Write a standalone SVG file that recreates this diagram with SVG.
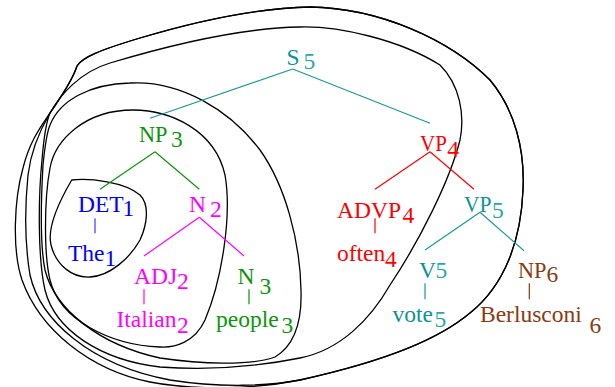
<svg xmlns="http://www.w3.org/2000/svg" width="615" height="387" viewBox="0 0 615 387">
<style>
text{font-family:"Liberation Serif","Times New Roman",serif;font-size:23.5px}
.curve{fill:none;stroke:#000;stroke-width:1.3}
.e{fill:none;stroke-width:1.2}
.teal{fill:#0e9292}.tealsub{fill:#22aaaa}.green{fill:#0a960a}.blue{fill:#0000ff}.mag{fill:#ff00ff}.red{fill:#ff0000}.brown{fill:#8b3a0e}
.lteal{stroke:#159a9a}.lgreen{stroke:#0a960a}.lblue{stroke:#3a3aff}.lmag{stroke:#ff00ff}.lred{stroke:#ff0000}.lbrown{stroke:#8b3a0e}
</style>
<rect width="615" height="387" fill="#fff"/>
<g id="regions">
<path id="regionA" class="curve" d="M71.7,180 C90,178 125,182 140,195 C150,205 147,225 140,240 C130,258 110,276 90,277 C72,278 56,265 51,245 C47,228 60,200 71.7,180 Z"/>
<path id="regionB" class="curve" d="M133,110 C170,110 215,130 225,175 C232,215 222,280 205,320 C195,342 175,348 160,347 C110,345 60,320 50,280 C44,255 44,200 50,168 C55,140 85,110 133,110 Z"/>
<path id="regionC" class="curve" d="M130,83 C180,80 230,110 260,150 C285,185 300,240 301,290 C302,320 295,345 275,357 C250,366 200,364 160,358 C100,345 55,310 45,270 C40,245 41,200 43,165 C45,145 47,132 50,125 C60,100 90,84 130,83 Z"/>
<path id="regionD" class="curve" d="M300,27 C340,26 400,40 440,65 C460,85 465,115 460,140 C450,180 420,240 390,285 C370,320 340,350 300,358 C250,368 200,370 160,367 C100,360 55,330 45,290 C38,260 38,200 42,160 C44,135 47,120 50,113 C60,95 80,72 110,63 C170,45 240,28 300,27 Z"/>
<path id="regionX" class="curve" d="M77,66 C72,82 60,98 50,113 C40,130 31,150 28,175 C24,215 25,245 30,275 C40,320 90,365 170,380 C220,388 270,386 300,380 C390,360 440,338 470,313 C505,285 521,240 523,190 C525,150 515,110 490,80 C450,40 380,8 310,7 C260,8 200,20 140,38 C100,50 82,57 77,66 Z"/>
<path id="regionE" class="curve" d="M310,7 C380,8 450,40 490,80 C515,110 525,150 523,190 C521,240 505,285 470,313 C440,338 390,360 300,380 C250,390 190,390 150,382 C90,370 40,330 22,280 C12,250 14,200 23,168 C30,140 42,125 50,113 C60,98 72,82 77,66 C82,58 100,50 140,38 C200,20 260,8 310,7 Z"/>
</g>
<g id="connectors" class="e">
<line class="lteal" x1="292.7" y1="69" x2="150" y2="118.3"/>
<line class="lteal" x1="292.7" y1="69" x2="430" y2="123.3"/>
<line class="lgreen" x1="155" y1="151.7" x2="100" y2="189.3"/>
<line class="lgreen" x1="155" y1="151.7" x2="199.3" y2="189.3"/>
<line class="lblue" x1="95" y1="218.3" x2="95" y2="233.3"/>
<line class="lmag" x1="199.3" y1="217.3" x2="144" y2="256"/>
<line class="lmag" x1="199.3" y1="217.3" x2="244" y2="256"/>
<line class="lmag" x1="144" y1="289.3" x2="144" y2="304.3"/>
<line class="lgreen" x1="249" y1="289.3" x2="249" y2="304.3"/>
<line class="lred" x1="430" y1="151.7" x2="375" y2="189.3"/>
<line class="lred" x1="430" y1="151.7" x2="474" y2="189.3"/>
<line class="lred" x1="375" y1="218.3" x2="375" y2="233.3"/>
<line class="lteal" x1="480" y1="212.3" x2="425" y2="250"/>
<line class="lteal" x1="480" y1="212.3" x2="524" y2="250.7"/>
<line class="lteal" x1="425" y1="283.3" x2="425" y2="299.3"/>
<line class="lbrown" x1="529.3" y1="283.3" x2="529.3" y2="299.3"/>
</g>
<g id="S5"><text class="teal" x="286.5" y="65">S</text><text class="tealsub" x="303.5" y="69">5</text></g>
<g id="NP3"><text class="green" x="139" y="142" textLength="28.5" lengthAdjust="spacingAndGlyphs">NP</text><text class="green" x="171" y="147">3</text></g>
<g id="DET1"><text class="blue" x="78" y="212.3">DET</text><text class="blue" x="122.5" y="216">1</text></g>
<g id="The1"><text class="blue" x="68" y="261">The</text><text class="blue" x="104.6" y="266">1</text></g>
<g id="N2"><text class="mag" x="189" y="212.3">N</text><text class="mag" x="210" y="216.7">2</text></g>
<g id="ADJ2"><text class="mag" x="134" y="284">ADJ</text><text class="mag" x="177" y="289">2</text></g>
<g id="Italian2"><text class="mag" x="116.5" y="327">Italian</text><text class="mag" x="177" y="332.7">2</text></g>
<g id="N3"><text class="green" x="237.5" y="283.5">N</text><text class="green" x="259.5" y="294.3">3</text></g>
<g id="people3"><text class="green" x="216" y="327">people</text><text class="green" x="281.5" y="332.7">3</text></g>
<g id="VP4"><text class="red" x="420" y="150.7" textLength="26.8" lengthAdjust="spacingAndGlyphs">VP</text><text class="red" x="447.2" y="156.7">4</text></g>
<g id="ADVP4"><text class="red" x="337" y="218.3">ADVP</text><text class="red" x="402.5" y="222.7">4</text></g>
<g id="often4"><text class="red" x="337" y="261">often</text><text class="red" x="385" y="266.7">4</text></g>
<g id="VP5"><text class="teal" x="464" y="212.3" textLength="27.5" lengthAdjust="spacingAndGlyphs">VP</text><text class="tealsub" x="492" y="217.7">5</text></g>
<g id="V5"><text class="teal" x="419" y="278.3">V</text><text class="tealsub" x="435.5" y="278.3">5</text></g>
<g id="vote5"><text class="teal" x="392.5" y="321.7">vote</text><text class="tealsub" x="434.5" y="326.7">5</text></g>
<g id="NP6"><text class="brown" x="518" y="278.3" textLength="28.5" lengthAdjust="spacingAndGlyphs">NP</text><text class="brown" x="546.5" y="282.3">6</text></g>
<g id="Berlusconi6"><text class="brown" x="480" y="321.7">Berlusconi</text><text class="brown" x="589.5" y="332.7">6</text></g>
</svg>
